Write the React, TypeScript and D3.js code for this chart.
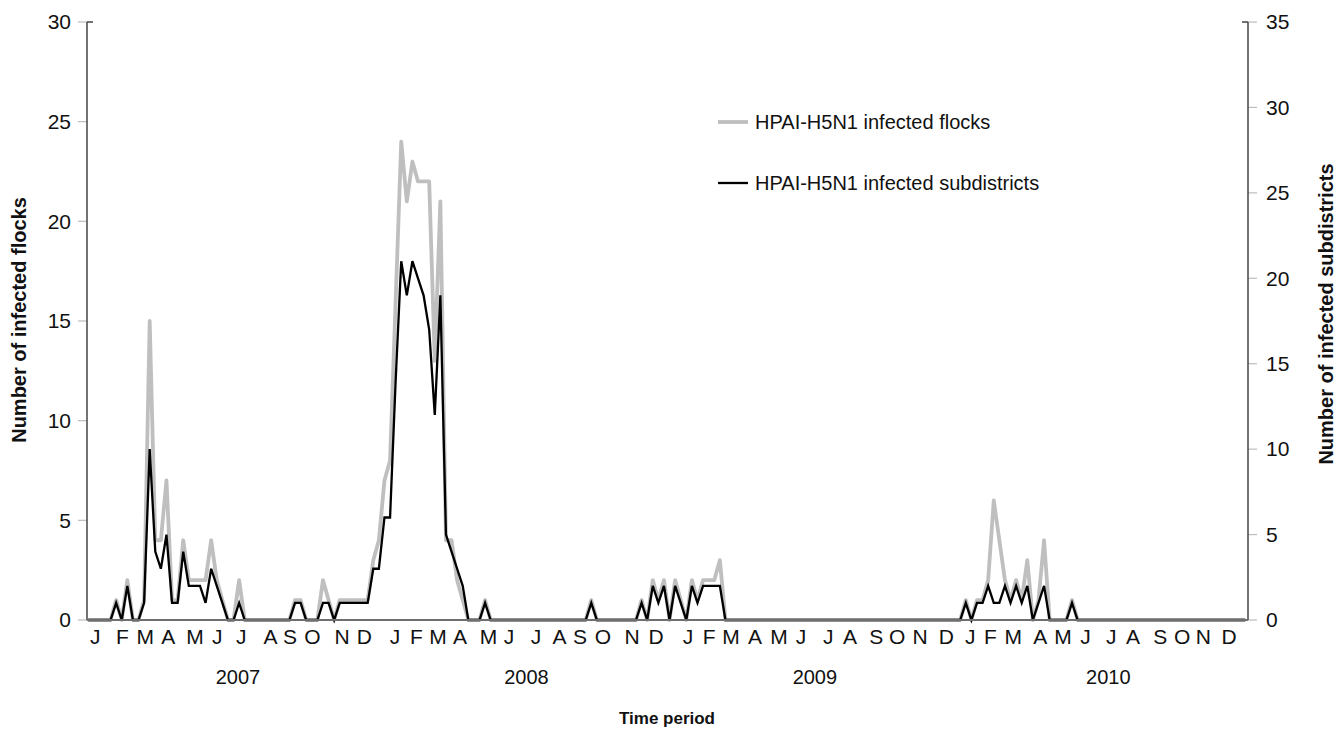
import React from 'react';
import * as d3 from 'd3';

// Weekly counts, 2007-2010 (208 weeks)
const flocks: number[] = [
  0,0,0,0,0,1,0,2,0,0,1,15,4,4,7,1,1,4,2,2,2,2,4,2,1,0,
  0,2,0,0,0,0,0,0,0,0,0,1,1,0,0,0,2,1,0,1,1,1,1,1,1,3,
  4,7,8,16,24,21,23,22,22,22,13,21,4,4,2,1,0,0,0,1,0,0,0,0,0,0,
  0,0,0,0,0,0,0,0,0,0,0,0,1,0,0,0,0,0,0,0,0,1,0,2,1,2,
  0,2,1,0,2,1,2,2,2,3,0,0,0,0,0,0,0,0,0,0,0,0,0,0,0,0,
  0,0,0,0,0,0,0,0,0,0,0,0,0,0,0,0,0,0,0,0,0,0,0,0,0,0,
  0,1,0,1,1,2,6,4,2,1,2,1,3,0,1,4,0,0,0,0,1,0,0,0,0,0,
  0,0,0,0,0,0,0,0,0,0,0,0,0,0,0,0,0,0,0,0,0,0,0,0,0,0,
];

const subdistricts: number[] = [
  0,0,0,0,0,1,0,2,0,0,1,10,4,3,5,1,1,4,2,2,2,1,3,2,1,0,
  0,1,0,0,0,0,0,0,0,0,0,1,1,0,0,0,1,1,0,1,1,1,1,1,1,3,
  3,6,6,14,21,19,21,20,19,17,12,19,5,4,3,2,0,0,0,1,0,0,0,0,0,0,
  0,0,0,0,0,0,0,0,0,0,0,0,1,0,0,0,0,0,0,0,0,1,0,2,1,2,
  0,2,1,0,2,1,2,2,2,2,0,0,0,0,0,0,0,0,0,0,0,0,0,0,0,0,
  0,0,0,0,0,0,0,0,0,0,0,0,0,0,0,0,0,0,0,0,0,0,0,0,0,0,
  0,1,0,1,1,2,1,1,2,1,2,1,2,0,1,2,0,0,0,0,1,0,0,0,0,0,
  0,0,0,0,0,0,0,0,0,0,0,0,0,0,0,0,0,0,0,0,0,0,0,0,0,0,
];

const monthLabels: string[] = [
  'J','F','M','A','M','J','J','A','S','O','N','D',
  'J','F','M','A','M','J','J','A','S','O','N','D',
  'J','F','M','A','M','J','J','A','S','O','N','D',
  'J','F','M','A','M','J','J','A','S','O','N','D',
];
// week position of each month label
const monthWeeks: number[] = [
  1.25, 6.1, 10.2, 14.3, 19.1, 23.1, 27.4, 32.6, 36.1, 40.1, 45.4, 49.4,
  54.9, 58.7, 62.6, 66.5, 71.6, 75.3, 80.1, 84.3, 88.0, 92.1, 97.3, 101.6,
  107.3, 111.1, 115.0, 119.3, 123.6, 127.5, 132.4, 136.3, 141.0, 144.7, 148.8, 153.5,
  157.8, 161.4, 165.5, 170.3, 174.4, 178.4, 183.0, 186.9, 191.8, 195.7, 199.5, 204.1,
];
const yearLabels: string[] = ['2007', '2008', '2009', '2010'];
const yearWeeks: number[] = [26.8, 78.4, 130.0, 182.5];

const leftTicks: number[] = [0, 5, 10, 15, 20, 25, 30];
const rightTicks: number[] = [0, 5, 10, 15, 20, 25, 30, 35];

const FONT = '"Liberation Sans", Arial, Helvetica, sans-serif';

export default function App() {
  const W = 1341, H = 756;
  const left = 87, right = 1248, bottom = 620, top = 22;
  const x = d3.scaleLinear().domain([0, 207]).range([88.2, 1245.3]);
  const yL = d3.scaleLinear().domain([0, 30]).range([bottom, top]);
  const yR = d3.scaleLinear().domain([0, 35]).range([bottom, top]);

  const lineL = d3.line<number>().x((_, i) => x(i)).y(d => yL(d));
  const lineR = d3.line<number>().x((_, i) => x(i)).y(d => yR(d));

  return (
    <svg width={W} height={H} style={{ position: 'absolute', left: 0, top: 0, background: '#fff' }}
      fontFamily={FONT}>
      <rect x={0} y={0} width={W} height={H} fill="#fff" />
      {leftTicks.map(t => (
        <g key={'l' + t}>
          <line x1={left - 9} x2={left} y1={yL(t)} y2={yL(t)} stroke="#bdbdbd" strokeWidth={1.2} />
          <text x={left - 16} y={yL(t)} dy="0.35em" textAnchor="end" fontSize={21} fill="#111">{t}</text>
        </g>
      ))}
      {rightTicks.map(t => (
        <g key={'r' + t}>
          <line x1={right} x2={right + 9} y1={yR(t)} y2={yR(t)} stroke="#bdbdbd" strokeWidth={1.2} />
          <text x={right + 18} y={yR(t)} dy="0.35em" textAnchor="start" fontSize={21} fill="#111">{t}</text>
        </g>
      ))}
      <line x1={left} x2={left} y1={top} y2={bottom} stroke="#444" strokeWidth={1.5} />
      <line x1={left} x2={left + 6} y1={top} y2={top} stroke="#444" strokeWidth={1.5} />
      <line x1={right} x2={right} y1={top} y2={bottom} stroke="#444" strokeWidth={1.5} />
      <line x1={right - 6} x2={right} y1={top} y2={top} stroke="#444" strokeWidth={1.5} />

      <path d={lineL(flocks) || ''} fill="none" stroke="#bfbfbf" strokeWidth={3.8} strokeLinejoin="round" />
      <path d={lineR(subdistricts) || ''} fill="none" stroke="#000" strokeWidth={2.3} strokeLinejoin="miter" />
      <line x1={left} x2={right} y1={bottom} y2={bottom} stroke="#6f6f6f" strokeWidth={2} />

      {monthLabels.map((m, i) => (
        <text key={'m' + i} x={x(monthWeeks[i])} y={637} dy="0.35em" textAnchor="middle" fontSize={21} fill="#111">{m}</text>
      ))}
      {yearLabels.map((yl, i) => (
        <text key={'y' + i} x={x(yearWeeks[i])} y={677} dy="0.35em" textAnchor="middle" fontSize={20} fill="#111">{yl}</text>
      ))}
      <text x={667} y={718} dy="0.35em" textAnchor="middle" fontSize={17} fontWeight="bold" fill="#111">Time period</text>
      <text transform={`translate(19,${320}) rotate(-90)`} textAnchor="middle" dy="0.35em" fontSize={20} fontWeight="bold" fill="#111">Number of infected flocks</text>
      <text transform={`translate(1326,${314}) rotate(-90)`} textAnchor="middle" dy="0.35em" fontSize={20} fontWeight="bold" fill="#111">Number of infected subdistricts</text>

      <line x1={718} x2={748} y1={122} y2={122} stroke="#bfbfbf" strokeWidth={3.8} />
      <text x={755} y={122} dy="0.35em" fontSize={20} fill="#111">HPAI-H5N1 infected flocks</text>
      <line x1={718} x2={748} y1={183} y2={183} stroke="#000" strokeWidth={2.3} />
      <text x={755} y={183} dy="0.35em" fontSize={20} fill="#111">HPAI-H5N1 infected subdistricts</text>
    </svg>
  );
}
